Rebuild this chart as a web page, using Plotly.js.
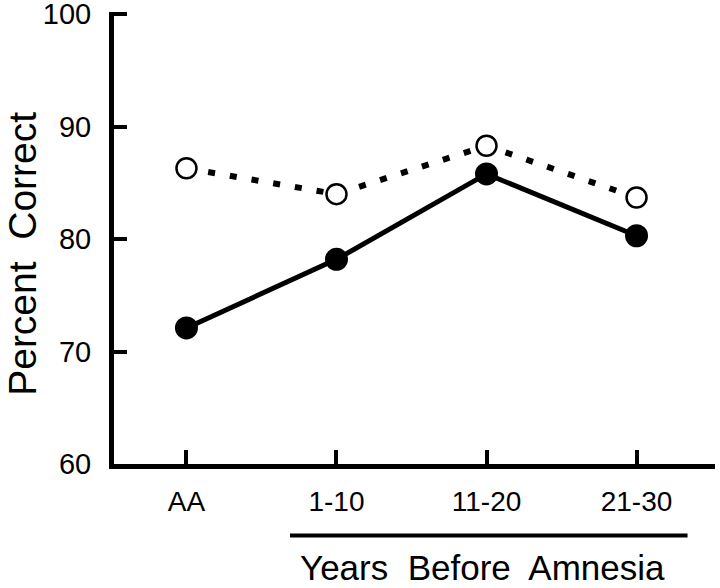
<!DOCTYPE html>
<html>
<head>
<meta charset="utf-8">
<script src="https://cdn.plot.ly/plotly-3.0.1.min.js"></script>
<style>
  body { margin: 0; background: #fff; }
  #chart { width: 720px; height: 588px; }
</style>
</head>
<body>
<div id="chart"></div>
<script>
// categories along the x axis
const periods = ['AA', '1-10', '11-20', '21-30'];
// percent correct, filled circles (solid line)
const filledScores = [72.1, 78.2, 85.8, 80.3];
// percent correct, open circles (dotted line)
const openScores = [86.3, 84.0, 88.3, 83.7];
const yTicks = [60, 70, 80, 90, 100];

const font = 'Liberation Sans, Arial, sans-serif';
const idx = periods.map((p, i) => i);

const traces = [
  {
    type: 'scatter', mode: 'lines+markers',
    x: idx, y: openScores,
    line: {color: '#000', width: 6, dash: '7px,15px'},
    marker: {symbol: 'circle', size: 20, color: '#fff', line: {color: '#000', width: 2.5}}
  },
  {
    type: 'scatter', mode: 'lines+markers',
    x: idx, y: filledScores,
    line: {color: '#000', width: 5},
    marker: {symbol: 'circle', size: 23, color: '#000'}
  }
];

const layout = {
  width: 720, height: 588,
  margin: {l: 114, r: 5, t: 12, b: 124},
  paper_bgcolor: '#fff', plot_bgcolor: '#fff',
  showlegend: false,
  font: {family: font, color: '#000'},
  xaxis: {
    range: [-0.483, 3.523],
    tickvals: idx, ticktext: periods,
    ticks: 'inside', ticklen: 14, tickwidth: 4, tickcolor: '#000',
    showline: true, linewidth: 5, linecolor: '#000',
    showgrid: false, zeroline: false,
    tickfont: {size: 28, family: font},
    ticklabelstandoff: 8
  },
  yaxis: {
    range: [60, 100.2],
    tickvals: yTicks,
    ticks: 'inside', ticklen: 13, tickwidth: 4, tickcolor: '#000',
    showline: true, linewidth: 5, linecolor: '#000',
    showgrid: false, zeroline: false,
    tickfont: {size: 29, family: font},
    ticklabelstandoff: 12,
    ticklabeloverflow: 'allow'
  },
  shapes: [
    {type: 'line', xref: 'x', yref: 'paper', x0: 0.69, x1: 3.34, y0: -0.158, y1: -0.158,
     line: {color: '#000', width: 4}}
  ],
  annotations: [
    {text: 'Years  Before  Amnesia', xref: 'x', yref: 'paper', x: 1.97, y: -0.229,
     xanchor: 'center', yanchor: 'middle', showarrow: false,
     font: {size: 35, family: font, color: '#000'}},
    {text: 'Percent  Correct', xref: 'paper', yref: 'paper', x: 0, y: 0.465,
     xshift: -91, textangle: -90, xanchor: 'center', yanchor: 'middle', showarrow: false,
     font: {size: 39, family: font, color: '#000'}}
  ]
};

Plotly.newPlot('chart', traces, layout, {staticPlot: true});
</script>
</body>
</html>
